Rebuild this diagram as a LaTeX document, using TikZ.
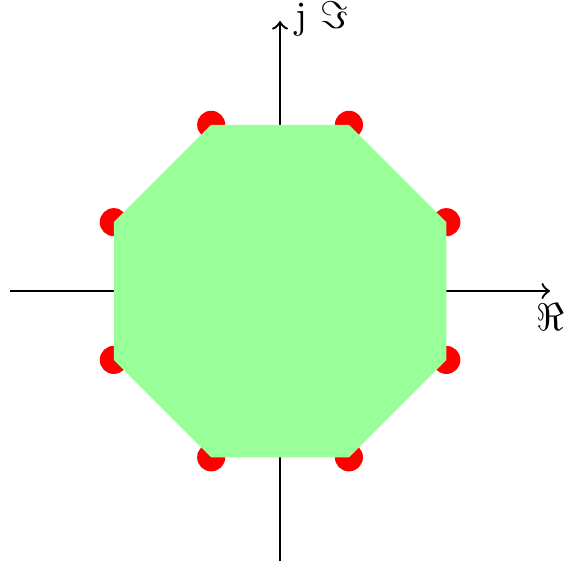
\documentclass[tikz,border=0pt]{standalone}
\usepackage{amsmath,amssymb}
\usepackage{xcolor}
\usepackage{tikz}
\usetikzlibrary{positioning,calc}

\begin{document}
\begin{tikzpicture}[x=1.64cm,y=1.64cm]
  \tikzstyle{axis}=[->,semithick]
  \tikzstyle{symbolpt}=[fill=red]
  \tikzstyle{region}=[fill=green!40]
  \useasboundingbox (-1.556,-1.522) rectangle (1.578,1.617);
  % axes
  \coordinate (xleft) at (-1.5,0);
  \coordinate (xright) at (1.5,0);
  \coordinate (ybottom) at (0,-1.5);
  \coordinate (ytop) at (0,1.5);
  \draw[axis] (xleft) -- (xright) node[below,inner sep=3pt] (relabel) {$\Re$};
  \draw[axis] (ybottom) -- (ytop) node[right,xshift=1.8pt,yshift=0.6pt,inner sep=2pt] (imlabel) {j $\Im$};
  % constellation points and decision region
  \foreach \k in {1,...,8} \coordinate (v\k) at ({22.5+45*(\k-1)}:1);
  \foreach \k in {1,...,8} \fill[symbolpt] (v\k) circle (0.078);
  \fill[region] (v1) -- (v2) -- (v3) -- (v4) -- (v5) -- (v6) -- (v7) -- (v8) -- cycle;
\end{tikzpicture}
\end{document}
